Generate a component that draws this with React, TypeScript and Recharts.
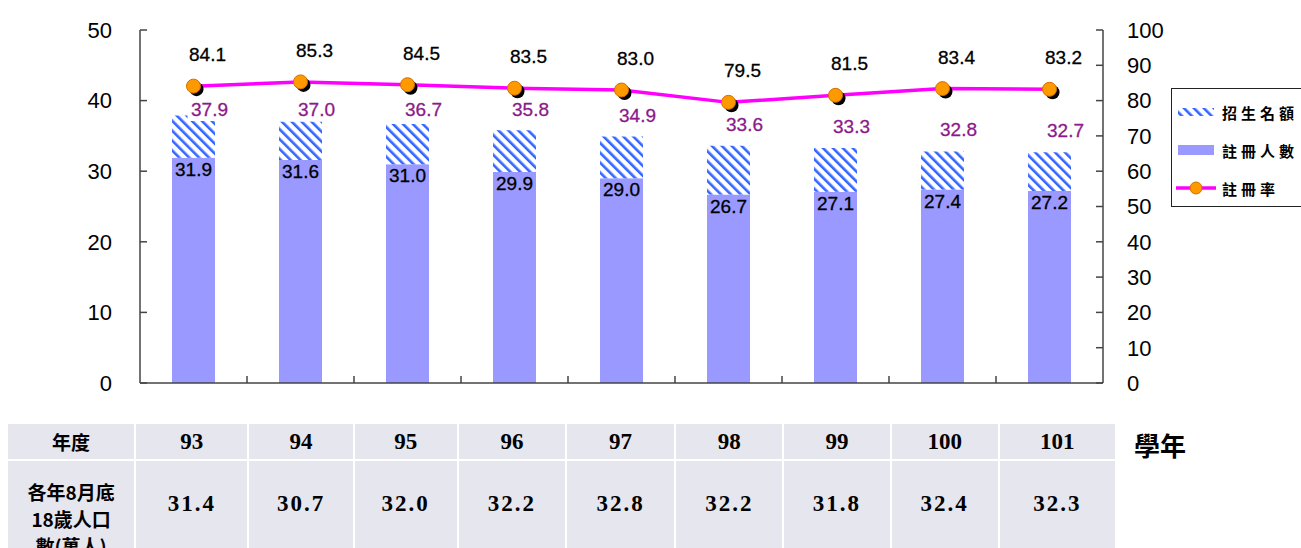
import React from "react";
import {
  ComposedChart,
  Bar,
  Line,
  XAxis,
  YAxis,
  LabelList,
} from "recharts";

const years = ["93", "94", "95", "96", "97", "98", "99", "100", "101"];
const quota = [37.9, 37.0, 36.7, 35.8, 34.9, 33.6, 33.3, 32.8, 32.7];
const enrolled = [31.9, 31.6, 31.0, 29.9, 29.0, 26.7, 27.1, 27.4, 27.2];
const rate = [84.1, 85.3, 84.5, 83.5, 83.0, 79.5, 81.5, 83.4, 83.2];
const population = ["31.4", "30.7", "32.0", "32.2", "32.8", "32.2", "31.8", "32.4", "32.3"];
const leftTicks = [0, 10, 20, 30, 40, 50];
const rightTicks = [0, 10, 20, 30, 40, 50, 60, 70, 80, 90, 100];

const data = years.map((y, i) => ({
  year: y,
  enrolled: enrolled[i],
  extra: +(quota[i] - enrolled[i]).toFixed(1),
  quota: quota[i],
  rate: rate[i],
}));

const SANS = '"Liberation Sans", Arial, sans-serif';
const CJK = '"Noto Sans CJK TC", sans-serif';
const SERIF = '"Liberation Serif", "Times New Roman", serif';

// table column widths (first column is the row title)
const colWidths = [128, 113, 105, 104, 108, 109, 108, 107, 108, 117];

const HatchDefs = ({ id }: { id: string }) => (
  <defs>
    <pattern id={id} width="7" height="7" patternUnits="userSpaceOnUse" patternTransform="rotate(-45)">
      <rect width="7" height="7" fill="#fff" />
      <rect width="2.6" height="7" fill="#3366ff" />
    </pattern>
  </defs>
);

const BoundaryTick = (props: any) => {
  const { x, y, index } = props;
  if (index >= years.length - 1) return <g />;
  return <line x1={x + 53.5} x2={x + 53.5} y1={y} y2={y - 7} stroke="#444" strokeWidth={1.5} />;
};

const RateDot = (props: any) => {
  const { cx, cy, index } = props;
  return (
    <g key={`dot-${index}`}>
      <circle cx={cx + 3} cy={cy + 3} r={7} fill="#000" />
      <circle cx={cx} cy={cy} r={7} fill="#ff9900" stroke="#d07000" strokeWidth={1} />
    </g>
  );
};

const RateLabel = (props: any) => {
  const { x, y, value } = props;
  return (
    <text x={x + 14} y={y - 30} textAnchor="middle" dominantBaseline="middle" fontSize={19} fontFamily={SANS} fill="#000" stroke="#000" strokeWidth={0.3}>
      {Number(value).toFixed(1)}
    </text>
  );
};

const EnrolledLabel = (props: any) => {
  const { x, y, width, value } = props;
  return (
    <text x={x + width / 2} y={y + 13} textAnchor="middle" dominantBaseline="middle" fontSize={19} fontFamily={SANS} fill="#000" stroke="#000" strokeWidth={0.3}>
      {Number(value).toFixed(1)}
    </text>
  );
};

const QuotaLabel = (props: any) => {
  const { x, y, width, value } = props;
  const cx = x + width / 2 + 16;
  const cy = Math.max(y - 20, 111);
  return (
    <g>
      <rect x={cx - 22} y={cy - 10} width={44} height={20} fill="#fff" />
      <text x={cx} y={cy} textAnchor="middle" dominantBaseline="middle" fontSize={19} fontFamily={SANS} fill="#8b1a8b" stroke="#8b1a8b" strokeWidth={0.3}>
        {Number(value).toFixed(1)}
      </text>
    </g>
  );
};

const legendItems = ["招生名額", "註冊人數", "註冊率"];

const LegendBox = () => (
  <div
    style={{
      position: "absolute",
      left: 1171,
      top: 88,
      width: 140,
      height: 119,
      border: "1.5px solid #222",
      background: "#fff",
      boxSizing: "border-box",
    }}
  >
    {legendItems.map((name, i) => (
      <div
        key={name}
        style={{
          position: "absolute",
          left: 4,
          top: [12, 50, 88][i],
          height: 22,
          display: "flex",
          alignItems: "center",
        }}
      >
        <svg width={40} height={20}>
          <HatchDefs id="legendHatch" />
          {i === 0 && <rect x={2} y={6} width={36} height={8} fill="url(#legendHatch)" />}
          {i === 1 && <rect x={2} y={5} width={36} height={10} fill="#9999ff" />}
          {i === 2 && (
            <g>
              <line x1={0} x2={40} y1={10} y2={10} stroke="#ff00ff" strokeWidth={3.5} />
              <circle cx={20} cy={10} r={6} fill="#ff9900" stroke="#d07000" />
            </g>
          )}
        </svg>
        <span
          style={{
            marginLeft: 6,
            fontFamily: CJK,
            fontWeight: 700,
            fontSize: 15,
            letterSpacing: 4,
            color: "#000",
            whiteSpace: "nowrap",
          }}
        >
          {name}
        </span>
      </div>
    ))}
  </div>
);

const cellStyle: React.CSSProperties = {
  border: "2px solid #fff",
  background: "#e6e6ee",
  textAlign: "center",
  padding: 0,
  fontFamily: SERIF,
  fontWeight: 700,
  color: "#000",
};

const App = () => {
  return (
    <div style={{ position: "absolute", left: 0, top: 0, width: 1301, height: 548, overflow: "hidden", background: "#fff" }}>
      <ComposedChart
        width={1301}
        height={400}
        data={data}
        margin={{ top: 30, right: 138, left: 80, bottom: 10 }}
        style={{ fontFamily: SANS }}
      >
        <HatchDefs id="hatch" />
        <XAxis
          dataKey="year"
          height={7}
          interval={0}
          tickSize={0}
          tickMargin={0}
          tickLine={false}
          tick={<BoundaryTick />}
          axisLine={{ stroke: "#444", strokeWidth: 1.5 }}
        />
        <YAxis
          yAxisId="left"
          domain={[0, 50]}
          ticks={leftTicks}
          width={60}
          tickSize={-7}
          tickMargin={35}
          axisLine={{ stroke: "#444", strokeWidth: 1.5 }}
          tickLine={{ stroke: "#444", strokeWidth: 1.5 }}
          tick={{ fontSize: 22, fill: "#000", fontFamily: SANS }}
        />
        <YAxis
          yAxisId="right"
          orientation="right"
          domain={[0, 100]}
          ticks={rightTicks}
          width={60}
          tickSize={-7}
          tickMargin={31}
          axisLine={{ stroke: "#444", strokeWidth: 1.5 }}
          tickLine={{ stroke: "#444", strokeWidth: 1.5 }}
          tick={{ fontSize: 22, fill: "#000", fontFamily: SANS, textAnchor: "start" }}
        />
        <Bar yAxisId="left" dataKey="enrolled" stackId="s" fill="#9999ff" barSize={43} isAnimationActive={false}>
          <LabelList dataKey="enrolled" content={<EnrolledLabel />} />
        </Bar>
        <Bar yAxisId="left" dataKey="extra" stackId="s" fill="url(#hatch)" barSize={43} isAnimationActive={false}>
          <LabelList dataKey="quota" content={<QuotaLabel />} />
        </Bar>
        <Line
          yAxisId="right"
          dataKey="rate"
          stroke="#ff00ff"
          strokeWidth={3.5}
          dot={<RateDot />}
          activeDot={false}
          isAnimationActive={false}
        >
          <LabelList dataKey="rate" content={<RateLabel />} />
        </Line>
      </ComposedChart>

      <LegendBox />

      <table
        style={{
          position: "absolute",
          left: 6,
          top: 422,
          borderCollapse: "collapse",
          tableLayout: "fixed",
          width: 1111,
        }}
      >
        <colgroup>
          {colWidths.map((w, i) => (
            <col key={i} style={{ width: w }} />
          ))}
        </colgroup>
        <tbody>
          <tr style={{ height: 37 }}>
            <td style={{ ...cellStyle, fontFamily: CJK, fontSize: 19 }}>年度</td>
            {years.map((y) => (
              <td key={y} style={{ ...cellStyle, fontSize: 23 }}>
                {y}
              </td>
            ))}
          </tr>
          <tr style={{ height: 100 }}>
            <td style={{ ...cellStyle, fontFamily: CJK, fontSize: 19, lineHeight: "27px", verticalAlign: "top", paddingTop: 17 }}>
              各年8月底
              <br />
              18歲人口
              <br />
              數(萬人)
            </td>
            {population.map((p, i) => (
              <td key={i} style={{ ...cellStyle, fontSize: 23, letterSpacing: 2, verticalAlign: "top", paddingTop: 30 }}>
                {p}
              </td>
            ))}
          </tr>
        </tbody>
      </table>
      <div
        style={{
          position: "absolute",
          left: 1134,
          top: 426,
          fontFamily: CJK,
          fontWeight: 700,
          fontSize: 26,
          color: "#000",
        }}
      >
        學年
      </div>
    </div>
  );
};

export default App;
